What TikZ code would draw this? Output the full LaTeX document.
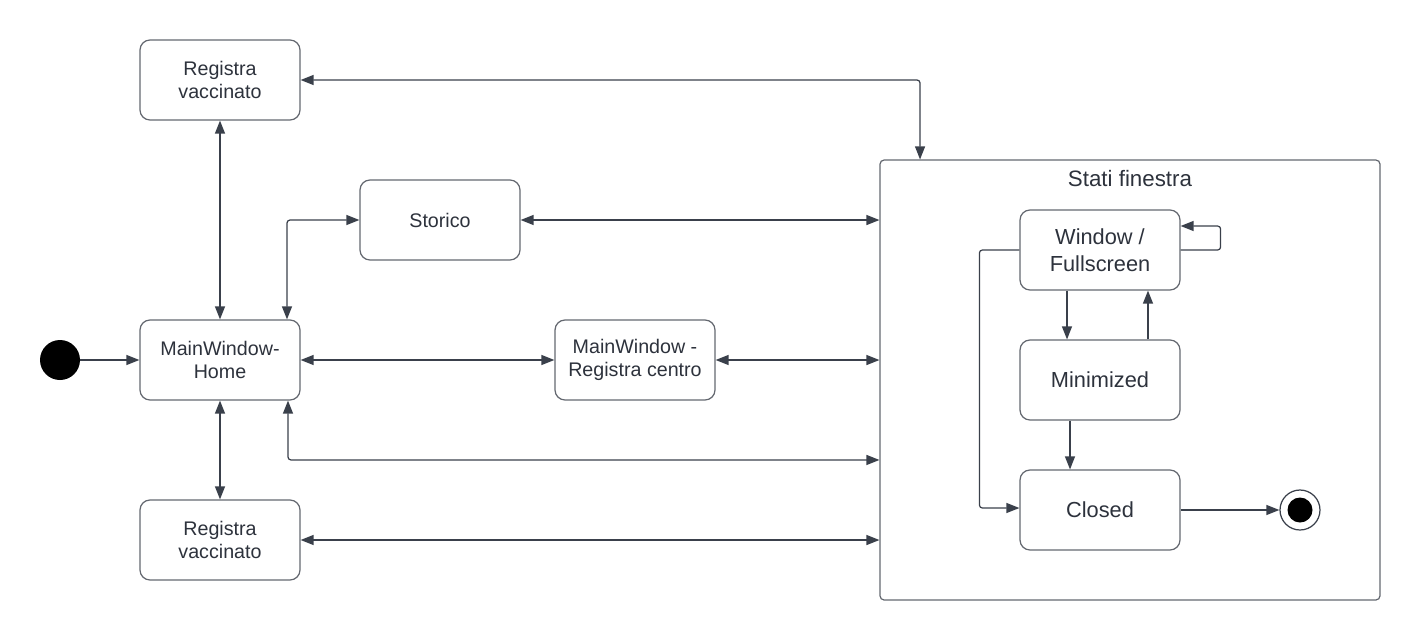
\documentclass[tikz,border=0pt]{standalone}
\usepackage{fontspec}
\setmainfont{Liberation Sans}
\usetikzlibrary{arrows.meta}
\definecolor{linea}{RGB}{58,64,75}
\definecolor{bordo}{RGB}{100,104,112}
\definecolor{testo}{RGB}{45,50,60}
\tikzset{
  statebox/.style={draw=bordo, line width=0.7pt, rounded corners=0.2cm, minimum width=3.2cm, minimum height=1.6cm, align=center, text=testo, font=\fontsize{11.2}{13.5}\selectfont},
  innerbox/.style={statebox, font=\fontsize{12.4}{15.5}\selectfont},
  link/.style={draw=linea, line width=0.7pt, rounded corners=0.06cm},
  tip/.tip={Triangle[length=0.26cm, width=0.2cm]}
}

\begin{document}
\begin{tikzpicture}[x=0.02cm, y=-0.02cm, >=tip]
\useasboundingbox (0,0) rectangle (1421,640);
\node [draw=bordo, line width=0.7pt, rounded corners=0.08cm, minimum width=10cm, minimum height=8.8cm] (finestra) at (1130,380) {};
\node [text=testo, font=\fontsize{12.7}{15.5}\selectfont] (titolo) at (1130,179) {Stati finestra};
\node [circle, fill=black, minimum size=0.8cm, inner sep=0pt] (inizio) at (60,360) {};
\node [statebox] (regsopra) at (220,80) {Registra\\vaccinato};
\node [statebox] (storico) at (440,220) {Storico};
\node [statebox] (home) at (220,360) {MainWindow-\\Home};
\node [statebox] (centro) at (635,360) {MainWindow -\\Registra centro};
\node [statebox] (regsotto) at (220,540) {Registra\\vaccinato};
\node [innerbox] (finestrawin) at (1100,250) {Window /\\Fullscreen};
\node [innerbox] (minimized) at (1100,380) {Minimized};
\node [innerbox] (closed) at (1100,510) {Closed};
\node [circle, draw=linea, line width=0.7pt, minimum size=0.8cm, inner sep=0pt] (fine) at (1300,510) {};
\node [circle, fill=black, minimum size=0.5cm, inner sep=0pt] (finedot) at (fine) {};
\draw [link, ->] (inizio) -- (home.west);
\draw [link, <->] (regsopra.south) -- (home.north);
\draw [link, <->] (storico.west) -| ([xshift=1.34cm]home.north);
\draw [link, <->] (home.east) -- (centro.west);
\draw [link, <->] (centro.east) -- (centro.east -| finestra.west);
\draw [link, <->] (storico.east) -- (storico.east -| finestra.west);
\draw [link, <->] (regsopra.east) -| ([xshift=-4.2cm]finestra.north);
\draw [link, <->] ([xshift=1.36cm]home.south) |- ([yshift=-1.6cm]finestra.west);
\draw [link, <->] (home.south) -- (regsotto.north);
\draw [link, <->] (regsotto.east) -- (regsotto.east -| finestra.west);
\draw [link, ->] (finestrawin.east) -- ++(40,0) |- ([yshift=0.48cm]finestrawin.east);
\draw [link, ->] (finestrawin.west) -- ++(-40,0) |- ([yshift=0.04cm]closed.west);
\draw [link, ->] ([xshift=-0.66cm]finestrawin.south) -- ([xshift=-0.66cm]minimized.north);
\draw [link, ->] ([xshift=0.96cm]minimized.north) -- ([xshift=0.96cm]finestrawin.south);
\draw [link, ->] ([xshift=-0.6cm]minimized.south) -- ([xshift=-0.6cm]closed.north);
\draw [link, ->] (closed.east) -- (fine);
\end{tikzpicture}
\end{document}
